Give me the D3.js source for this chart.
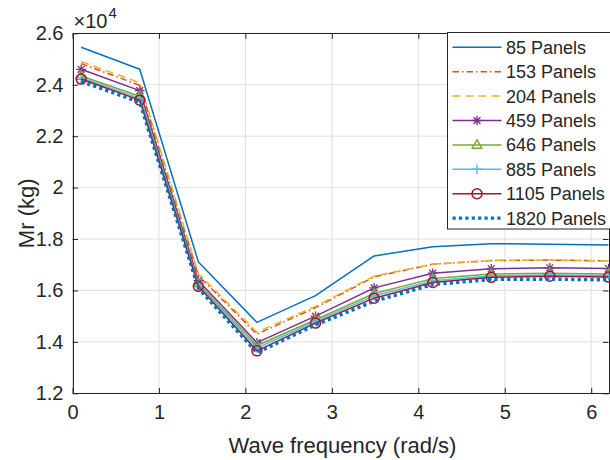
<!DOCTYPE html>
<html><head><meta charset="utf-8">
<script src="https://cdn.jsdelivr.net/npm/d3@7"></script>
<style>body{margin:0;background:#fff}svg{display:block}text{font-family:"Liberation Sans",Arial,Helvetica,sans-serif;fill:#262626}</style>
</head><body>
<svg id="chart" width="610" height="460"></svg>
<script>
const freq = [0.1, 0.778, 1.456, 2.133, 2.811, 3.489, 4.167, 4.844, 5.522, 6.2];
const p85   = [25460, 24600, 17110, 14760, 15800, 17340, 17700, 17820, 17800, 17770];
const p153  = [24820, 23980, 16580, 14300, 15330, 16530, 17020, 17160, 17180, 17150];
const p204  = [24900, 24080, 16650, 14380, 15380, 16560, 17020, 17170, 17180, 17150];
const p459  = [24600, 23770, 16380, 13970, 15000, 16100, 16670, 16840, 16880, 16850];
const p646  = [24340, 23550, 16280, 13860, 14860, 15880, 16460, 16640, 16670, 16640];
const p885  = [24270, 23470, 16210, 13760, 14790, 15790, 16380, 16570, 16600, 16580];
const p1105 = [24220, 23400, 16160, 13650, 14730, 15700, 16310, 16510, 16550, 16520];
const p1820 = [24130, 23320, 16080, 13580, 14660, 15580, 16230, 16430, 16440, 16410];
const seriesNames = ["85 Panels","153 Panels","204 Panels","459 Panels","646 Panels","885 Panels","1105 Panels","1820 Panels"];
const xTicks = [0,1,2,3,4,5,6];
const yTicks = [12000,14000,16000,18000,20000,22000,24000,26000];

const styles = [
  {color:"#0072BD", dash:null, width:1.5, marker:null},
  {color:"#D95319", dash:"6.5,3,1.5,3", width:1.5, marker:null},
  {color:"#EDB120", dash:"8,5", width:1.5, marker:null},
  {color:"#7E2F8E", dash:null, width:1.5, marker:"star"},
  {color:"#77AC30", dash:null, width:1.5, marker:"triangle"},
  {color:"#4DBEEE", dash:null, width:1.5, marker:"plus"},
  {color:"#A2142F", dash:null, width:1.5, marker:"circle"},
  {color:"#0072BD", dash:"3.2,3.2", width:3.4, marker:null}
];
const allSeries = [p85,p153,p204,p459,p646,p885,p1105,p1820];

const svg = d3.select("#chart");
const L=72.5, R=608.5, T=33.3, B=393.3;
const x = d3.scaleLinear().domain([0,6.2]).range([L,R]);
const y = d3.scaleLinear().domain([12000,26000]).range([B,T]);
const axisColor = "#262626";

// grid
const g = svg.append("g");
g.selectAll(".gx").data(xTicks).enter().append("line")
  .attr("x1",d=>x(d)).attr("x2",d=>x(d)).attr("y1",T).attr("y2",B)
  .attr("stroke","#dfdfdf").attr("stroke-width",1);
g.selectAll(".gy").data(yTicks).enter().append("line")
  .attr("x1",L).attr("x2",R).attr("y1",d=>y(d)).attr("y2",d=>y(d))
  .attr("stroke","#dfdfdf").attr("stroke-width",1);

// axes
const tk = 5.5;
function styleAxis(sel){
  sel.select(".domain").attr("stroke",axisColor).attr("stroke-width",1);
  sel.selectAll(".tick line").attr("stroke",axisColor);
  sel.selectAll(".tick text").attr("fill",axisColor).style("font-family",'"Liberation Sans",Arial,sans-serif');
}
const xa = svg.append("g").attr("transform",`translate(0,${B})`)
  .call(d3.axisBottom(x).tickValues(xTicks).tickSizeInner(-tk).tickSizeOuter(0).tickPadding(12).tickFormat(d3.format("d")));
styleAxis(xa); xa.selectAll(".tick text").attr("font-size",20);
const xt = svg.append("g").attr("transform",`translate(0,${T})`)
  .call(d3.axisTop(x).tickValues(xTicks).tickSizeInner(-tk).tickSizeOuter(0).tickFormat(""));
styleAxis(xt);
const ya = svg.append("g").attr("transform",`translate(${L},0)`)
  .call(d3.axisLeft(y).tickValues(yTicks).tickSizeInner(-tk).tickSizeOuter(0).tickPadding(9).tickFormat(d=>d3.format("")(d/10000)));
styleAxis(ya); ya.selectAll(".tick text").attr("font-size",20);
const yr = svg.append("g").attr("transform",`translate(${R},0)`)
  .call(d3.axisRight(y).tickValues(yTicks).tickSizeInner(-tk).tickSizeOuter(0).tickFormat(""));
styleAxis(yr);
svg.selectAll(".domain").attr("shape-rendering","crispEdges");

// exponent label
const ex = svg.append("text").attr("x",L+1).attr("y",28).attr("font-size",20);
ex.append("tspan").text("×10");
ex.append("tspan").attr("font-size",15).attr("dy",-10).attr("dx",1).text("4");

// axis labels
svg.append("text").attr("x",(L+R)/2+2).attr("y",453).attr("text-anchor","middle").attr("font-size",22).text("Wave frequency (rad/s)");
svg.append("text").attr("transform",`translate(34,${(T+B)/2}) rotate(-90)`).attr("text-anchor","middle").attr("font-size",22).text("Mr (kg)");

// markers
function drawMarker(sel, type, cx, cy, color){
  const s = 4.8;
  if(type==="star"){
    const p = `M${cx-s},${cy}L${cx+s},${cy}M${cx},${cy-s}L${cx},${cy+s}M${cx-s*0.72},${cy-s*0.72}L${cx+s*0.72},${cy+s*0.72}M${cx-s*0.72},${cy+s*0.72}L${cx+s*0.72},${cy-s*0.72}`;
    sel.append("path").attr("d",p).attr("stroke",color).attr("stroke-width",1.3).attr("fill","none");
  } else if(type==="triangle"){
    const p = `M${cx},${cy-s*1.1}L${cx+s},${cy+s*0.7}L${cx-s},${cy+s*0.7}Z`;
    sel.append("path").attr("d",p).attr("stroke",color).attr("stroke-width",1.4).attr("fill","none");
  } else if(type==="plus"){
    const p = `M${cx-s},${cy}L${cx+s},${cy}M${cx},${cy-s}L${cx},${cy+s}`;
    sel.append("path").attr("d",p).attr("stroke",color).attr("stroke-width",1.4).attr("fill","none");
  } else if(type==="circle"){
    sel.append("circle").attr("cx",cx).attr("cy",cy).attr("r",5).attr("stroke",color).attr("stroke-width",1.5).attr("fill","none");
  }
}

// lines
const line = d3.line().x((d,i)=>x(freq[i])).y(d=>y(d));
const plot = svg.append("g");
allSeries.forEach((vals,k)=>{
  const st = styles[k];
  const gg = plot.append("g");
  gg.append("path").datum(vals).attr("d",line).attr("fill","none")
    .attr("stroke",st.color).attr("stroke-width",st.width)
    .attr("stroke-dasharray",st.dash).attr("stroke-linejoin","round");
  if(st.marker){
    vals.forEach((v,i)=>drawMarker(gg, st.marker, x(freq[i]), y(v), st.color));
  }
});

// legend
const lg = svg.append("g");
lg.append("rect").attr("x",447.5).attr("y",32.5).attr("width",170).attr("height",196.5)
  .attr("fill","#fff").attr("stroke",axisColor).attr("stroke-width",1);
seriesNames.forEach((name,k)=>{
  const st = styles[k];
  const cy = 47.3 + k*24.4;
  lg.append("line").attr("x1",452.5).attr("x2",501.5).attr("y1",cy).attr("y2",cy)
    .attr("stroke",st.color).attr("stroke-width",st.width).attr("stroke-dasharray",st.dash);
  if(st.marker) drawMarker(lg, st.marker, 477, cy, st.color);
  lg.append("text").attr("x",506).attr("y",cy).attr("dy","0.36em").attr("font-size",18).text(name);
});
</script>
</body></html>
